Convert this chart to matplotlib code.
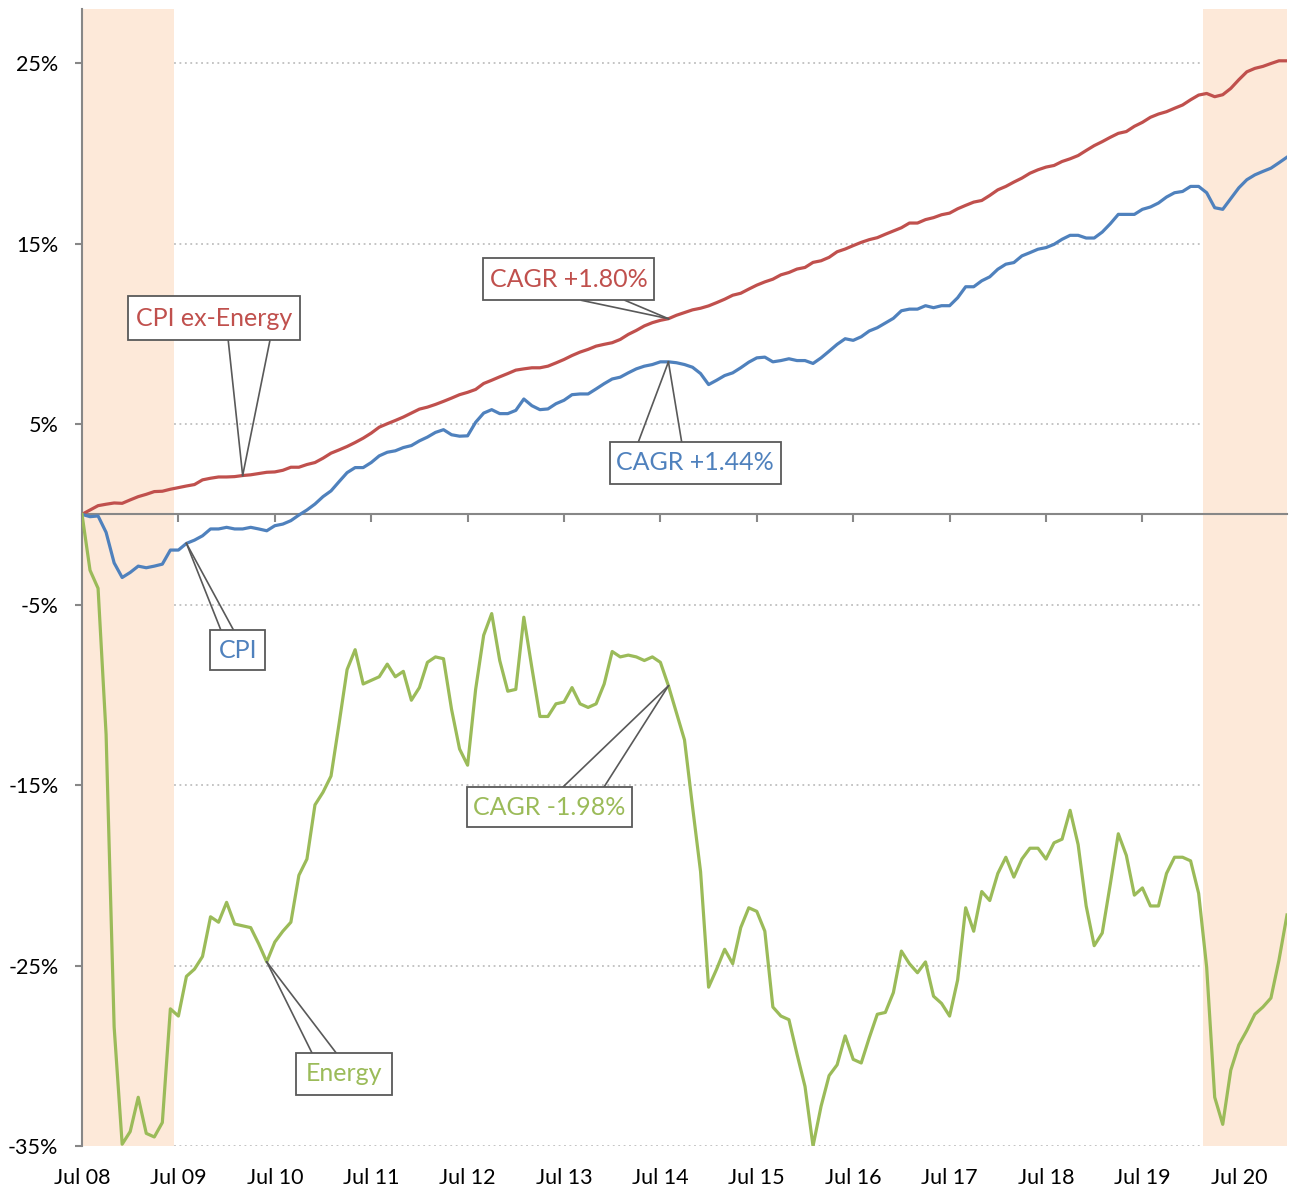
import pandas as pd
import matplotlib
matplotlib.use('Agg')
import matplotlib.pyplot as plt
from matplotlib.patches import Rectangle

plt.rcParams['font.family'] = ['Lato', 'DejaVu Sans']

# cumulative change since Jul 2008, in percent, one value per month (Jul 08 .. Jan 21)
cpi = [
    0, -0.13, -0.09, -1.0, -2.69, -3.5, -3.22, -2.87, -2.96, -2.87, -2.76, -1.98,
    -1.98, -1.61, -1.43, -1.19, -0.81, -0.81, -0.72, -0.81, -0.81, -0.72, -0.81, -0.91,
    -0.63, -0.54, -0.35, -0.04, 0.24, 0.57, 0.98, 1.3, 1.81, 2.31, 2.59, 2.59,
    2.87, 3.24, 3.44, 3.52, 3.7, 3.81, 4.07, 4.28, 4.54, 4.69, 4.41, 4.33,
    4.35, 5.1, 5.61, 5.8, 5.58, 5.58, 5.76, 6.39, 6.02, 5.8, 5.84, 6.13,
    6.32, 6.63, 6.67, 6.67, 6.95, 7.24, 7.5, 7.6, 7.84, 8.06, 8.21, 8.3,
    8.45, 8.45, 8.4, 8.3, 8.15, 7.8, 7.19, 7.43, 7.69, 7.84, 8.12, 8.43,
    8.67, 8.71, 8.45, 8.52, 8.62, 8.52, 8.52, 8.36, 8.67, 9.04, 9.42, 9.73,
    9.64, 9.84, 10.16, 10.34, 10.6, 10.86, 11.28, 11.37, 11.37, 11.56, 11.45, 11.56,
    11.56, 12.0, 12.61, 12.61, 12.94, 13.16, 13.58, 13.86, 13.95, 14.32, 14.5, 14.69,
    14.78, 14.96, 15.24, 15.46, 15.46, 15.31, 15.31, 15.64, 16.1, 16.62, 16.62, 16.62,
    16.9, 17.03, 17.25, 17.58, 17.82, 17.89, 18.17, 18.17, 17.82, 16.99, 16.9, 17.49,
    18.09, 18.54, 18.81, 19.0, 19.18, 19.48, 19.79,
]
cpi_ex_energy = [
    0, 0.24, 0.48, 0.56, 0.63, 0.61, 0.8, 0.98, 1.11, 1.26, 1.28, 1.39,
    1.48, 1.57, 1.65, 1.91, 2.0, 2.07, 2.07, 2.09, 2.15, 2.19, 2.26, 2.33,
    2.35, 2.44, 2.61, 2.61, 2.76, 2.87, 3.11, 3.39, 3.57, 3.76, 3.98, 4.22,
    4.5, 4.83, 5.02, 5.2, 5.39, 5.61, 5.83, 5.94, 6.09, 6.26, 6.44, 6.63,
    6.76, 6.92, 7.25, 7.43, 7.62, 7.8, 7.99, 8.06, 8.12, 8.12, 8.21, 8.39,
    8.58, 8.8, 8.99, 9.14, 9.32, 9.42, 9.51, 9.69, 9.97, 10.19, 10.44, 10.62,
    10.75, 10.84, 11.03, 11.18, 11.33, 11.42, 11.55, 11.73, 11.92, 12.14, 12.25, 12.48,
    12.7, 12.88, 13.03, 13.27, 13.4, 13.59, 13.68, 13.96, 14.05, 14.24, 14.55, 14.7,
    14.89, 15.07, 15.22, 15.33, 15.52, 15.7, 15.88, 16.14, 16.14, 16.33, 16.44, 16.6,
    16.69, 16.93, 17.12, 17.3, 17.39, 17.67, 17.98, 18.17, 18.41, 18.63, 18.9, 19.09,
    19.24, 19.33, 19.55, 19.7, 19.88, 20.16, 20.43, 20.65, 20.89, 21.11, 21.21, 21.5,
    21.72, 22.0, 22.18, 22.31, 22.5, 22.68, 22.97, 23.23, 23.32, 23.14, 23.25, 23.6,
    24.08, 24.52, 24.71, 24.82, 24.98, 25.13, 25.13,
]
energy = [
    0, -3.1, -4.1, -12.2, -28.4, -34.9, -34.2, -32.3, -34.3, -34.5, -33.7, -27.4,
    -27.8, -25.6, -25.2, -24.5, -22.3, -22.6, -21.5, -22.7, -22.8, -22.9, -23.8, -24.8,
    -23.7, -23.1, -22.6, -20.0, -19.1, -16.1, -15.4, -14.5, -11.6, -8.6, -7.5, -9.4,
    -9.2, -9.0, -8.3, -9.0, -8.7, -10.3, -9.6, -8.2, -7.9, -8.0, -10.8, -13.0,
    -13.9, -9.7, -6.7, -5.5, -8.1, -9.8, -9.7, -5.7, -8.5, -11.2, -11.2, -10.5,
    -10.4, -9.6, -10.5, -10.7, -10.5, -9.4, -7.6, -7.9, -7.8, -7.9, -8.1, -7.9,
    -8.2, -9.5, -11.0, -12.5, -16.2, -19.8, -26.2, -25.2, -24.1, -24.9, -22.9, -21.8,
    -22.0, -23.1, -27.3, -27.8, -28.0, -29.9, -31.7, -35.0, -32.8, -31.1, -30.5, -28.9,
    -30.2, -30.4, -29.0, -27.7, -27.6, -26.5, -24.2, -24.9, -25.4, -24.8, -26.7, -27.1,
    -27.8, -25.8, -21.8, -23.1, -20.9, -21.4, -19.9, -19.0, -20.1, -19.1, -18.5, -18.5,
    -19.1, -18.2, -18.0, -16.4, -18.3, -21.7, -23.9, -23.2, -20.5, -17.7, -18.9, -21.1,
    -20.7, -21.7, -21.7, -19.9, -19.0, -19.0, -19.2, -21.0, -25.1, -32.3, -33.8, -30.8,
    -29.4, -28.6, -27.7, -27.3, -26.8, -24.7, -22.2,
]

months = pd.period_range('2008-07', periods=len(cpi), freq='M')
recessions = [('2007-12', '2009-06'), ('2020-03', '2021-01')]
y_ticks = [-35, -25, -15, -5, 5, 15, 25]

RED = '#C0504D'
BLUE = '#4F81BD'
GREEN = '#9BBB59'
GRAY = '#595959'
AXIS = '#878787'
SHADE = '#FDE9D9'

x = list(range(len(months)))


def month_pos(label):
    return (pd.Period(label, freq='M') - months[0]).n


fig = plt.figure(figsize=(12.92, 11.93), dpi=100)
ax = fig.add_axes([82 / 1292, 47 / 1193, 1205 / 1292, 1137 / 1193])

for start, end in recessions:
    ax.axvspan(max(month_pos(start) - 0.5, 0), min(month_pos(end) + 0.5, x[-1]),
               color=SHADE, lw=0, zorder=1)

ax.plot(x, cpi_ex_energy, color=RED, lw=2.3, solid_joinstyle='round', zorder=3)
ax.plot(x, cpi, color=BLUE, lw=2.3, solid_joinstyle='round', zorder=3)
ax.plot(x, energy, color=GREEN, lw=2.3, solid_joinstyle='round', zorder=3)

ax.set_xlim(0, x[-1])
ax.set_ylim(-35, 28)

# axes styling
ax.set_axisbelow(True)
ax.grid(axis='y', color='#BFBFBF', ls=(0, (1, 2)), lw=1.3)
ax.spines['top'].set_visible(False)
ax.spines['right'].set_visible(False)
ax.spines['left'].set_color(AXIS)
ax.spines['left'].set_linewidth(1.5)
ax.spines['bottom'].set_position(('data', 0))
ax.spines['bottom'].set_color(AXIS)
ax.spines['bottom'].set_linewidth(1.5)

ax.set_yticks(y_ticks, [f'{v}%' for v in y_ticks])
ax.tick_params(axis='y', direction='out', length=5, width=1.5, color=AXIS,
               labelsize=15.5, pad=12, labelcolor='black')

july = [i for i, p in enumerate(months) if p.month == 7]
ax.set_xticks(july)
ax.tick_params(axis='x', direction='out', length=6, width=1.5, color=AXIS,
               labelbottom=False)

sec = ax.secondary_xaxis('bottom')
sec.set_xticks(july, [months[i].strftime('%b %y') for i in july])
sec.tick_params(length=0, labelsize=15.5, pad=16, labelcolor='black')
sec.spines['bottom'].set_visible(False)


def callout(text, color, tip, center, size, bases, edge):
    cx, cy = center
    w, h = size
    ax.add_patch(Rectangle((cx - w / 2, cy - h / 2), w, h, fc='white', ec=GRAY,
                           lw=1.3, zorder=5))
    ey = cy - h / 2 if edge == 'bottom' else cy + h / 2
    for bx in bases:
        ax.plot([bx, tip[0]], [ey, tip[1]], color=GRAY, lw=1.2, zorder=4)
    ax.text(cx, cy, text, color=color, ha='center', va='center', fontsize=18,
            zorder=6)


callout('CPI ex-Energy', RED, (20, cpi_ex_energy[20]), (16.4, 10.87), (21.4, 2.44),
        (18.2, 23.4), 'bottom')
callout('CAGR +1.80%', RED, (73, cpi_ex_energy[73]), (60.6, 13.03), (21.3, 2.35),
        (62.2, 67.6), 'bottom')
callout('CAGR +1.44%', BLUE, (73, cpi[73]), (76.35, 2.85), (21.25, 2.31),
        (69.25, 74.65), 'top')
callout('CPI', BLUE, (13, cpi[13]), (19.4, -7.52), (6.85, 2.25),
        (17.27, 18.84), 'top')
callout('Energy', GREEN, (23, energy[23]), (32.6, -31.0), (11.9, 2.36),
        (28.6, 31.6), 'top')
callout('CAGR -1.98%', GREEN, (73, energy[73]), (58.2, -16.22), (20.6, 2.25),
        (59.9, 65.0), 'top')

fig.savefig('out.png', dpi=100)
